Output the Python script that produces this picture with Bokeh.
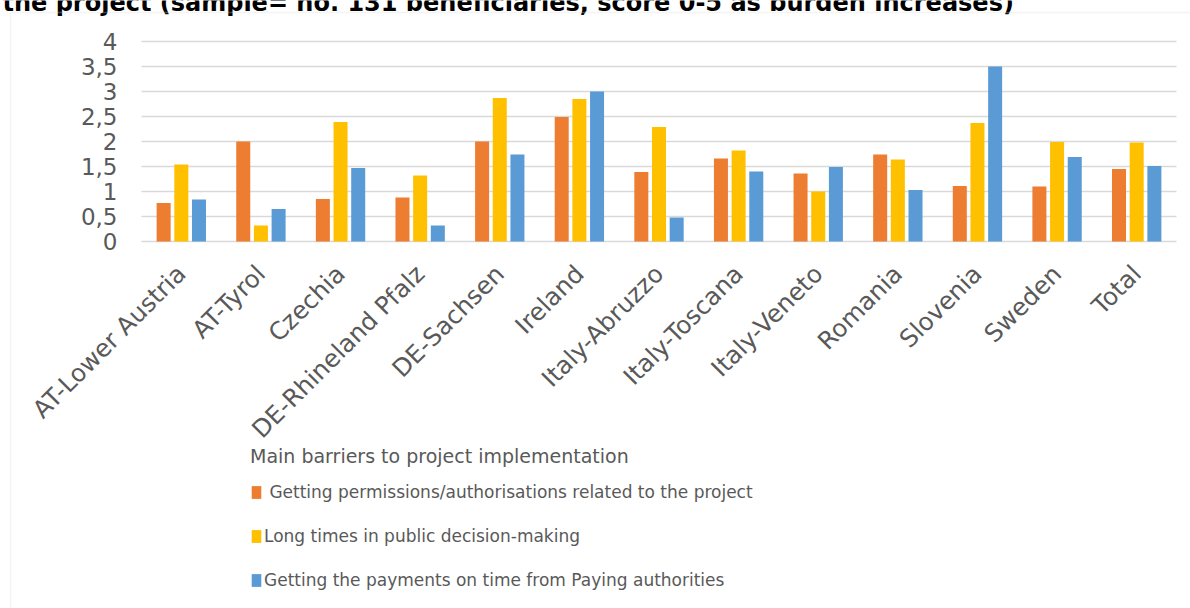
import math
from bokeh.plotting import figure
from bokeh.models import (Range1d, FixedTicker, Legend, LegendItem,
                          Label, BoxAnnotation, ColumnDataSource)
from bokeh.transform import dodge
from bokeh.embed import file_html
from bokeh.resources import INLINE
from bokeh.core.properties import value

# ---------------- data ----------------
categories = ["AT-Lower Austria", "AT-Tyrol", "Czechia", "DE-Rhineland Pfalz",
              "DE-Sachsen", "Ireland", "Italy-Abruzzo", "Italy-Toscana",
              "Italy-Veneto", "Romania", "Slovenia", "Sweden", "Total"]
permissions = [0.77, 2.00, 0.85, 0.88, 2.00, 2.49, 1.39, 1.66, 1.36, 1.74, 1.11, 1.10, 1.45]
decision    = [1.54, 0.32, 2.39, 1.32, 2.87, 2.85, 2.29, 1.82, 1.00, 1.64, 2.37, 1.99, 1.98]
payments    = [0.84, 0.65, 1.47, 0.32, 1.74, 3.00, 0.48, 1.40, 1.49, 1.03, 3.50, 1.69, 1.51]
series_names = [" Getting permissions/authorisations related to the project",
                "Long times in public decision-making",
                "Getting the payments on time from Paying authorities"]
y_ticks = [0, 0.5, 1, 1.5, 2, 2.5, 3, 3.5, 4]
y_tick_labels = ["0", "0,5", "1", "1,5", "2", "2,5", "3", "3,5", "4"]
legend_title = "Main barriers to project implementation"
chart_title = "the project (sample= no. 131 beneficiaries, score 0-5 as burden increases)"

colors = ["#ED7D31", "#FFC000", "#5B9BD5"]
FONT = "DejaVu Sans"
GREY = "#595959"
BORDER = "#D9D9D9"

# ---------------- geometry (pixels) ----------------
W, H = 1190, 608
PLOT_L, PLOT_R = 141, 1176      # plot area left / right
Y_TOP, Y_ZERO = 41, 241         # pixel of top tick and of zero line
n = len(categories)
xs = (PLOT_R - PLOT_L) / n
x_start = -0.5 - PLOT_L / xs
x_end = n - 0.5 + (W - PLOT_R) / xs
ys = (Y_ZERO - Y_TOP) / max(y_ticks)
y_start = -(H - Y_ZERO) / ys
y_end = max(y_ticks) + Y_TOP / ys

src = ColumnDataSource(dict(idx=list(range(n)), permissions=permissions,
                            decision=decision, payments=payments))

p = figure(x_range=Range1d(x_start, x_end), y_range=Range1d(y_start, y_end),
           width=W, height=H, min_border=0,
           output_backend="svg", toolbar_location=None)
p.outline_line_color = None
p.background_fill_color = "white"
p.border_fill_color = "white"

# horizontal gridlines limited to the plot area
p.xgrid.visible = False
try:
    p.ygrid.cross_bounds = (-0.5, n - 0.5)
    p.ygrid.grid_line_color = BORDER
    p.ygrid.grid_line_width = 1.5
    p.ygrid.ticker = FixedTicker(ticks=y_ticks)
except AttributeError:
    p.ygrid.visible = False
    p.segment(x0=[-0.5] * len(y_ticks), x1=[n - 0.5] * len(y_ticks),
              y0=y_ticks, y1=y_ticks, line_color=BORDER, line_width=1.5)

fields = ["permissions", "decision", "payments"]
offsets = [-0.222, 0.0, 0.222]
renderers = []
for f, off, c in zip(fields, offsets, colors):
    r = p.vbar(x=dodge("idx", off), top=f, width=0.176,
               source=src, fill_color=c, line_color=None)
    renderers.append(r)

p.yaxis.fixed_location = -0.5
p.yaxis.ticker = FixedTicker(ticks=y_ticks)
p.yaxis.major_label_overrides = {t: l for t, l in zip(y_ticks, y_tick_labels)}
p.yaxis.axis_line_color = None
p.yaxis.major_tick_line_color = None
p.yaxis.minor_tick_line_color = None
p.yaxis.major_tick_out = 0
p.yaxis.major_label_standoff = 24
p.yaxis.major_label_text_font = FONT
p.yaxis.major_label_text_font_size = "23px"
p.yaxis.major_label_text_color = GREY

p.xaxis.fixed_location = 0
p.xaxis.ticker = FixedTicker(ticks=list(range(n)))
p.xaxis.major_label_overrides = {i: c for i, c in enumerate(categories)}
p.xaxis.axis_line_color = None
p.xaxis.major_tick_line_color = None
p.xaxis.minor_tick_line_color = None
p.xaxis.major_tick_out = 0
p.xaxis.major_label_orientation = math.pi / 4
p.xaxis.major_label_standoff = 28
p.xaxis.major_label_text_font = FONT
p.xaxis.major_label_text_font_size = "24.5px"
p.xaxis.major_label_text_color = GREY

legend = Legend(items=[LegendItem(label=value(s), renderers=[r])
                       for s, r in zip(series_names, renderers)],
                location=(250, 18), orientation="vertical",
                title=legend_title,
                title_text_font=FONT, title_text_font_size="19px",
                title_text_color=GREY, title_text_font_style="normal",
                title_standoff=15,
                label_text_font=FONT, label_text_font_size="17px",
                label_text_color=GREY, label_standoff=2,
                glyph_width=12, glyph_height=16, label_height=20,
                spacing=24, padding=0, margin=0,
                border_line_color=None, background_fill_alpha=0)
p.add_layout(legend)

# chart title, whose upper part is cut off by the top edge (baseline ~10px)
p.add_layout(Label(x=x_start + 2 / xs, y=y_end - 2 / ys,
                   text=chart_title, text_font=FONT,
                   text_font_size="24px", text_font_style="bold",
                   text_color="black", text_baseline="middle"))

# chart-area border (left and top edges visible)
p.add_layout(BoxAnnotation(left=10, top=12, right=W + 50, bottom=H + 50,
                           left_units="canvas", right_units="canvas",
                           top_units="canvas", bottom_units="canvas",
                           fill_alpha=0, line_color=BORDER, line_width=1.5))

open("out.html", "w").write(file_html(p, INLINE))
